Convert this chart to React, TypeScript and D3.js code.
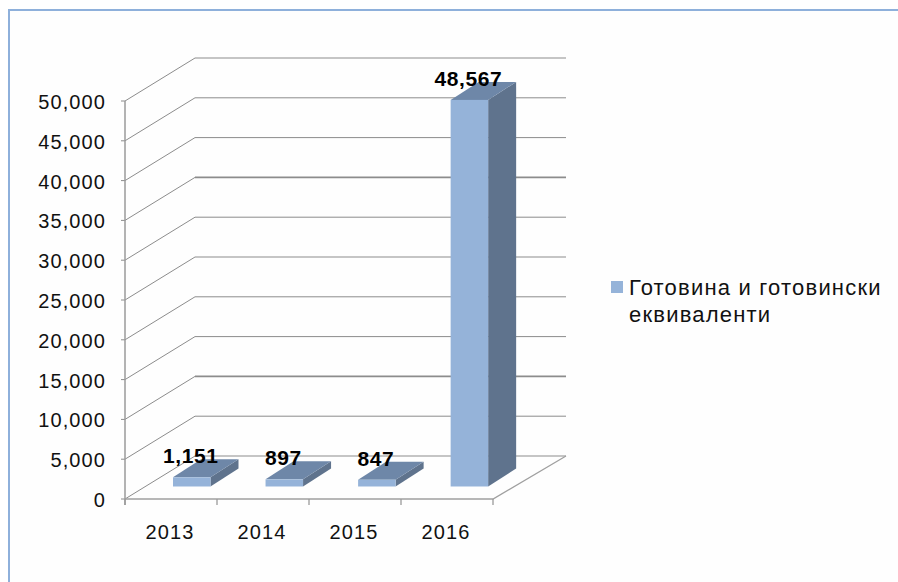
import React from 'react';
import * as d3 from 'd3';

const years = ['2013', '2014', '2015', '2016'];
const cash = [1151, 897, 847, 48567];
const yTicks = [0, 5000, 10000, 15000, 20000, 25000, 30000, 35000, 40000, 45000, 50000];
const heavyTicks = [10000, 35000];
const legendLines = ['Готовина и готовински', 'еквиваленти'];

const W = 898;
const H = 582;
const depth = { x: 70, y: -43 };
const barDepth = { x: 28, y: -18 };
const FONT = 'Liberation Sans, Arial, sans-serif';
const GRID = '#8c8c8c';

const App = () => {
  const x = d3.scaleBand().domain(years).range([125, 493]);
  // bars sit on a slightly wider step than the axis ticks
  const barX = d3.scaleBand().domain(years).range([173, 543.2]);
  const y = d3.scaleLinear().domain([0, 50000]).range([499, 101]);
  const barLift = 12.5; // bars stand a bit into the floor
  const fmt = d3.format(',');
  const barW = 37.5;
  const left = x.range()[0];

  return (
    <svg width={W} height={H} style={{ position: 'absolute', left: 0, top: 0, background: '#fff' }}>
      <rect x={9} y={10} width={W + 20} height={H + 20} fill="#fefefe" stroke="#8eb0db" strokeWidth={2} />

      {/* walls */}
      {yTicks.map(t => (
        <g key={t} fill="none" stroke={GRID}>
          <path d={`M${left - 4},${y(t)}H${left}L${left + depth.x},${y(t) + depth.y}`} />
          <line
            x1={left + depth.x}
            x2={566}
            y1={y(t) + depth.y}
            y2={y(t) + depth.y}
            strokeWidth={heavyTicks.includes(t) ? 1.8 : 1}
          />
        </g>
      ))}
      <line x1={125} x2={125} y1={y(50000)} y2={y(0) + 6} stroke="#9a9a9a" strokeWidth={1.5} />

      {/* floor */}
      <path d={`M125,${y(0)}H493L566,${y(0) + depth.y}`} fill="none" stroke="#a0a0a0" strokeWidth={1.3} />
      {[...years.map(d => x(d) as number), 493].map(v => (
        <line key={v} x1={v} x2={v} y1={y(0)} y2={y(0) + 6} stroke="#9a9a9a" strokeWidth={1.3} />
      ))}

      {yTicks.map(t => (
        <text
          key={t}
          x={106}
          y={y(t) + 8}
          textAnchor="end"
          fontFamily={FONT}
          fontSize={20}
          letterSpacing={1.1}
          fill="#111"
        >
          {fmt(t)}
        </text>
      ))}
      {years.map(d => (
        <text
          key={d}
          x={(x(d) as number) + x.bandwidth() / 2 - 1}
          y={539}
          textAnchor="middle"
          fontFamily={FONT}
          fontSize={20}
          letterSpacing={1.1}
          fill="#111"
        >
          {d}
        </text>
      ))}

      {/* bars */}
      {years.map((d, i) => {
        const x0 = barX(d) as number;
        const x1 = x0 + barW;
        const base = y(0) - barLift;
        const top = y(cash[i]) - barLift;
        const { x: dx, y: dy } = barDepth;
        return (
          <g key={d}>
            <path d={`M${x1},${base}L${x1 + dx},${base + dy}V${top + dy}L${x1},${top}Z`} fill="#5f738d" />
            <path d={`M${x0},${top}L${x0 + dx},${top + dy}H${x1 + dx}L${x1},${top}Z`} fill="#6e87a8" />
            <rect x={x0} y={top} width={barW} height={base - top} fill="#95b3d9" />
          </g>
        );
      })}

      {/* labels on top of bars */}
      {years.map((d, i) => (
        <text
          key={d}
          x={(barX(d) as number) + barW / 2 - 1}
          y={y(cash[i]) - barLift - 14}
          textAnchor="middle"
          fontFamily={FONT}
          fontSize={21}
          letterSpacing={0.6}
          fontWeight="bold"
          fill="#000"
        >
          {fmt(cash[i])}
        </text>
      ))}

      {/* legend */}
      <rect x={611} y={281} width={12} height={12} fill="#95b3d9" />
      {legendLines.map((line, i) => (
        <text
          key={line}
          x={629}
          y={295 + i * 27}
          fontFamily={FONT}
          fontSize={22}
          letterSpacing={1.2}
          fill="#111"
        >
          {line}
        </text>
      ))}
    </svg>
  );
};

export default App;
